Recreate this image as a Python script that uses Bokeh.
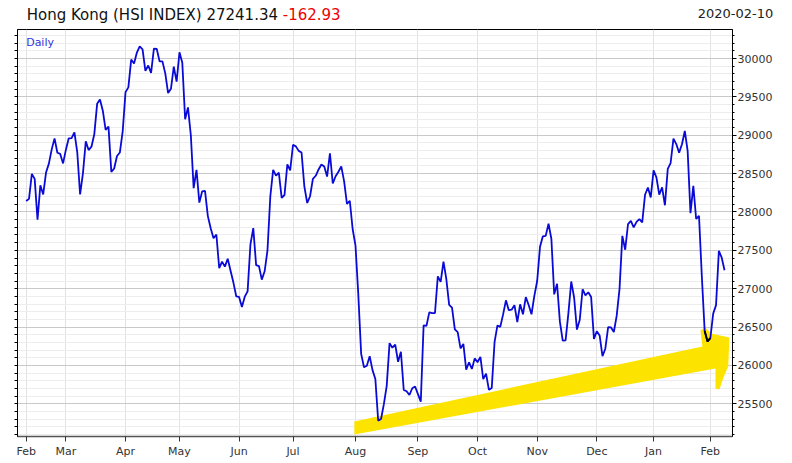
import pandas as pd
from bokeh.plotting import figure
from bokeh.layouts import column
from bokeh.models import (Range1d, LinearAxis, FixedTicker, SingleIntervalTicker,
                          Label, ColumnDataSource, Div)
from bokeh.embed import file_html
from bokeh.resources import INLINE

# ---------------- data ----------------
start_date = "2019-02-11"
end_date = "2020-02-10"
hk_holidays = ["2019-04-05", "2019-04-19", "2019-04-22", "2019-05-01", "2019-05-13",
               "2019-06-07", "2019-07-01", "2019-10-01", "2019-10-07", "2019-12-25",
               "2019-12-26", "2020-01-01", "2020-01-27", "2020-01-28"]

feb19 = [28143, 28171, 28497, 28432, 27901, 28347, 28228, 28514, 28630, 28816, 28959, 28772, 28757, 28633]
mar19 = [28812, 28960, 28962, 29037, 28779, 28228, 28503, 28920, 28807, 28851, 29012, 29409, 29466, 29320,
         29071, 29113, 28523, 28567, 28729, 28775, 29051]
apr19 = [29562, 29624, 29986, 29936, 30077, 30157, 30120, 29839, 29909, 29812, 30130, 30124, 29963, 29963,
         29806, 29549, 29605, 29893, 29699]
may19 = [30082, 29944, 29209, 29363, 29003, 28311, 28550, 28122, 28269, 28275, 27946, 27788, 27657, 27706,
         27267, 27353, 27288, 27390, 27235, 27080, 26901]
jun19 = [26893, 26762, 26896, 26965, 27578, 27789, 27308, 27294, 27118, 27227, 27498, 28202, 28550, 28473,
         28513, 28185, 28221, 28621, 28543]
jul19 = [28876, 28855, 28796, 28775, 28331, 28117, 28205, 28431, 28472, 28554, 28619, 28593, 28461, 28765,
         28371, 28466, 28524, 28594, 28398, 28107, 28146, 27778]
aug19 = [27565, 26919, 26151, 25976, 25997, 26120, 25939, 25824, 25281, 25302, 25495, 25734, 26291, 26231,
         26270, 26048, 26179, 25681, 25664, 25615, 25703, 25725]
sep19 = [25627, 25528, 26523, 26515, 26691, 26681, 26683, 27160, 27088, 27353, 27124, 26790, 26754, 26469,
         26435, 26222, 26281, 25945, 26041, 25955, 26092]
oct19 = [26042, 26111, 25821, 25893, 25682, 25707, 26308, 26521, 26503, 26665, 26848, 26720, 26726, 26786,
         26566, 26797, 26667, 26891, 26787, 26667, 26906]
nov19 = [27100, 27547, 27683, 27688, 27847, 27651, 26926, 27065, 26571, 26323, 26327, 26681, 27094, 26889,
         26467, 26595, 26993, 26913, 26954, 26893, 26346]
dec19 = [26445, 26391, 26120, 26218, 26498, 26495, 26436, 26645, 26994, 27688, 27508, 27843, 27884, 27800,
         27871, 27906, 27864, 28225, 28319, 28190]
jan20 = [28543, 28452, 28226, 28322, 28087, 28561, 28638, 28955, 28885, 28773, 28883, 29056, 28795, 27985,
         28341, 27909, 27950, 27160, 26449, 26313]
feb20 = [26356, 26675, 26786, 27493, 27404, 27241]

title_main = "Hong Kong (HSI INDEX) 27241.34"
title_change = "-162.93"
title_date = "2020-02-10"
period_label = "Daily"

# hand-drawn highlighter arrow (annotation), in (trading-day index, index level)
arrow_idx = [115.6, 115.6, 238.2, 237.5, 239.2, 241.3, 247.7, 247.3, 245.6, 244.2, 242.8, 242.8]
arrow_val = [25100, 25270, 26247, 26456, 26495, 26416, 26364, 25986, 25843, 25687, 25700, 25960]

# ---------------- build ----------------
close = feb19 + mar19 + apr19 + may19 + jun19 + jul19 + aug19 + sep19 + oct19 + nov19 + dec19 + jan20 + feb20
dates = pd.bdate_range(start_date, end_date)
dates = dates[~dates.isin(pd.to_datetime(hk_holidays))]
assert len(dates) == len(close)
idx = list(range(len(close)))

month_idx = [0] + [i for i in range(1, len(dates)) if dates[i].month != dates[i - 1].month]
month_lbl = {i: dates[i].strftime("%b") for i in month_idx}

src = ColumnDataSource(dict(i=idx, c=close))
hl_mask = (dates >= pd.Timestamp("2020-01-30")) & (dates <= pd.Timestamp("2020-02-03"))
hl_src = ColumnDataSource(dict(i=[i for i, m in zip(idx, hl_mask) if m],
                               c=[c for c, m in zip(close, hl_mask) if m]))

FONT = "DejaVu Sans"
W = 792

# ---------------- header ----------------
hdr_html = (
    '<div style="position:relative;width:792px;height:27px;font-family:\'DejaVu Sans\';">'
    '<div style="position:absolute;left:26.7px;top:8px;font-size:15px;line-height:15px;'
    'color:#111111;white-space:nowrap;">'
    f'{title_main} <span style="color:#ee0000;">{title_change}</span></div>'
    '<div style="position:absolute;right:18.7px;top:7.3px;font-size:13px;line-height:13px;'
    f'color:#222222;white-space:nowrap;">{title_date}</div>'
    '</div>'
)
hdr = Div(text=hdr_html, width=W, height=27, margin=(0, 0, 0, 0))

# ---------------- main chart ----------------
p = figure(width=W, height=436, x_range=Range1d(-3.05, 248.8), y_range=Range1d(25074, 30378),
           output_backend="svg", toolbar_location=None, y_axis_location="right", title=None,
           min_border_left=17, min_border_right=60, min_border_top=2, min_border_bottom=27)
p.background_fill_color = "white"
p.border_fill_color = "white"
p.outline_line_color = "black"
p.outline_line_width = 1

yt = SingleIntervalTicker(interval=500, num_minor_ticks=5)
xt = FixedTicker(ticks=month_idx, minor_ticks=[])
left_ticks = FixedTicker(ticks=[], minor_ticks=list(range(25100, 30400, 100)))

ya = p.yaxis[0]
ya.ticker = yt
ya.axis_line_color = "black"
ya.major_tick_out = 4
ya.major_tick_in = 0
ya.minor_tick_out = 2
ya.minor_tick_in = 0
ya.major_tick_line_color = "black"
ya.minor_tick_line_color = "black"
ya.major_label_text_font = FONT
ya.major_label_text_font_size = "11px"
ya.major_label_text_color = "#333333"
ya.major_label_standoff = 1

la = LinearAxis(ticker=left_ticks, axis_line_color="black", minor_tick_out=3, minor_tick_in=0,
                major_tick_out=0, major_tick_in=0, minor_tick_line_color="black")
p.add_layout(la, "left")

xa = p.xaxis[0]
xa.ticker = xt
xa.major_label_overrides = month_lbl
xa.axis_line_color = "#555555"
xa.axis_line_width = 1.5
xa.major_tick_out = 5
xa.major_tick_in = 0
xa.major_tick_line_color = "#333333"
xa.major_label_text_font = FONT
xa.major_label_text_font_size = "11px"
xa.major_label_text_color = "#333333"
xa.major_label_standoff = 3

p.ygrid.ticker = yt
p.ygrid.grid_line_color = "#c9c9c9"
p.ygrid.minor_grid_line_color = "#ededed"
p.xgrid.ticker = xt
p.xgrid.grid_line_color = "#e2e2e2"

p.patch(arrow_idx, arrow_val, fill_color="#fde400", line_color=None)
p.line("i", "c", source=src, line_color="#0a0ad6", line_width=1.8)
p.line("i", "c", source=hl_src, line_color="black", line_width=1.8)

p.add_layout(Label(x=0.0, y=30212, text=period_label, text_font=FONT, text_font_size="11px",
                   text_color="#3535d8", text_baseline="alphabetic"))

layout = column(hdr, p, spacing=0)
open("out.html", "w").write(file_html(layout, INLINE))
